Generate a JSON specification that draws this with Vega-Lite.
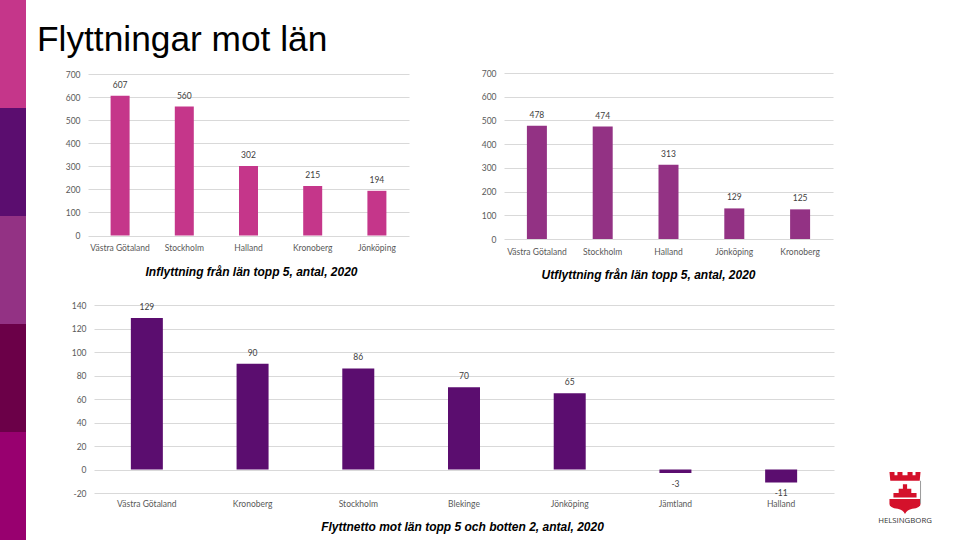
{"$schema":"https://vega.github.io/schema/vega-lite/v6.json","padding":0,"background":"white","bounds":"flush","spacing":62,"config":{"view":{"stroke":null},"concat":{"spacing":0},"text":{"font":"Lato"},"axis":{"labelFont":"Lato","titleFont":"Liberation Sans","labelColor":"#595959","gridColor":"#d9d9d9","gridWidth":1,"domain":false,"ticks":false,"labelFontSize":8.5,"titleFontSize":12,"titleFontStyle":"italic","titleFontWeight":"bold","titleColor":"#000000","titleAlign":"center","titleBaseline":"middle","titleAnchor":null,"labelAngle":0}},"hconcat":[{"width":26,"height":540,"data":{"values":[{"band":"a"},{"band":"b"},{"band":"c"},{"band":"d"},{"band":"e"}]},"mark":{"type":"bar"},"encoding":{"y":{"field":"band","type":"nominal","axis":null,"scale":{"paddingInner":0,"paddingOuter":0}},"color":{"field":"band","type":"nominal","legend":null,"scale":{"range":["#c5368a","#5b0d6f","#933284","#6b0048","#98006f"]}}}},{"bounds":"flush","spacing":305,"vconcat":[{"bounds":"flush","spacing":0,"vconcat":[{"width":800,"height":73,"data":{"values":[{"t":"Flyttningar mot län"}]},"mark":{"type":"text","font":"Liberation Sans","fontSize":35.3,"align":"left","baseline":"alphabetic","color":"#000000","x":-51,"y":51},"encoding":{"text":{"field":"t","type":"nominal"}}},{"bounds":"flush","spacing":95,"hconcat":[{"width":321,"height":166,"data":{"values":[{"lan":"Västra Götaland","v":607},{"lan":"Stockholm","v":560},{"lan":"Halland","v":302},{"lan":"Kronoberg","v":215},{"lan":"Jönköping","v":194}]},"encoding":{"x":{"field":"lan","type":"nominal","sort":null,"axis":{"title":"Inflyttning från län topp 5, antal, 2020","labelPadding":4,"titleX":163,"titleY":32}},"y":{"field":"v","type":"quantitative","scale":{"domain":[0,700],"nice":false,"range":[162.5,1.3]},"axis":{"title":null,"values":[0,100,200,300,400,500,600,700],"grid":true,"labelPadding":8}}},"layer":[{"mark":{"type":"bar","size":19,"color":"#c5368a"}},{"mark":{"type":"text","dy":-11,"fontSize":8.5,"color":"#404040"},"encoding":{"text":{"field":"v","type":"quantitative"}}}]},{"width":329,"height":166,"data":{"values":[{"lan":"Västra Götaland","v":478},{"lan":"Stockholm","v":474},{"lan":"Halland","v":313},{"lan":"Jönköping","v":129},{"lan":"Kronoberg","v":125}]},"encoding":{"x":{"field":"lan","type":"nominal","sort":null,"axis":{"title":"Utflyttning från län topp 5, antal, 2020","labelPadding":8,"titleX":144,"titleY":35.5}},"y":{"field":"v","type":"quantitative","scale":{"domain":[0,700],"nice":false},"axis":{"title":null,"values":[0,100,200,300,400,500,600,700],"grid":true,"labelPadding":8}}},"layer":[{"mark":{"type":"bar","size":20,"color":"#933284"}},{"mark":{"type":"text","dy":-11,"fontSize":8.5,"color":"#404040"},"encoding":{"text":{"field":"v","type":"quantitative"}}}]}]}]},{"bounds":"flush","spacing":0,"hconcat":[{"width":6,"height":1,"data":{"values":[]},"mark":"point","encoding":{}},{"width":740,"height":188,"data":{"values":[{"lan":"Västra Götaland","v":129,"lbl":"129"},{"lan":"Kronoberg","v":90,"lbl":"90"},{"lan":"Stockholm","v":86,"lbl":"86"},{"lan":"Blekinge","v":70,"lbl":"70"},{"lan":"Jönköping","v":65,"lbl":"65"},{"lan":"Jämtland","v":-3,"lbl":"-3"},{"lan":"Halland","v":-11,"lbl":"-11"}]},"encoding":{"x":{"field":"lan","type":"nominal","sort":null,"axis":{"title":"Flyttnetto mot län topp 5 och botten 2, antal, 2020","labelPadding":6,"titleX":368,"titleY":33}},"y":{"field":"v","type":"quantitative","scale":{"domain":[-20,140],"nice":false},"axis":{"title":null,"values":[-20,0,20,40,60,80,100,120,140],"grid":true,"labelPadding":8,"labelExpr":"replace(datum.label,'−','-')"}}},"layer":[{"mark":{"type":"bar","size":32,"color":"#5b0d6f"}},{"transform":[{"filter":"datum.v>=0"}],"mark":{"type":"text","dy":-11,"fontSize":8.5,"color":"#404040"},"encoding":{"text":{"field":"lbl","type":"nominal"}}},{"transform":[{"filter":"datum.v<0"}],"mark":{"type":"text","dy":11,"fontSize":8.5,"color":"#404040"},"encoding":{"text":{"field":"lbl","type":"nominal"}}}]},{"width":106,"height":235,"data":{"values":[{"px":71,"py":188,"name":"HELSINGBORG","ly":216}]},"encoding":{"x":{"field":"px","type":"quantitative","axis":null,"scale":{"domain":[0,106],"nice":false}},"y":{"field":"py","type":"quantitative","axis":null,"scale":{"domain":[235,0],"nice":false}}},"layer":[{"mark":{"type":"point","filled":true,"opacity":1,"size":1764,"color":"#d4112b","shape":"M-.74 -1H-.5V-.84H-.36V-1H-.12V-.84H.12V-1H.36V-.84H.5V-1H.74L.7 -.58H-.7Z M-.74 .28H.74V.52Q.74 .7 .35 .75Q.1 .8 0 1Q-.1 .8 -.35 .75Q-.74 .7 -.74 .52Z M-.55 0H.55V.22H-.55Z M-.3 -.2H.3V0H-.3Z M-.1 -.42H.1V-.2H-.1Z"}},{"mark":{"type":"point","filled":false,"opacity":1,"size":1764,"color":"#9a9a9a","strokeWidth":1,"shape":"M.74 -.58V.5"}},{"mark":{"type":"text","fontSize":7.8,"font":"Open Sans","color":"#333333"},"encoding":{"text":{"field":"name","type":"nominal"},"y":{"field":"ly","type":"quantitative"}}}]}]}]}]}
